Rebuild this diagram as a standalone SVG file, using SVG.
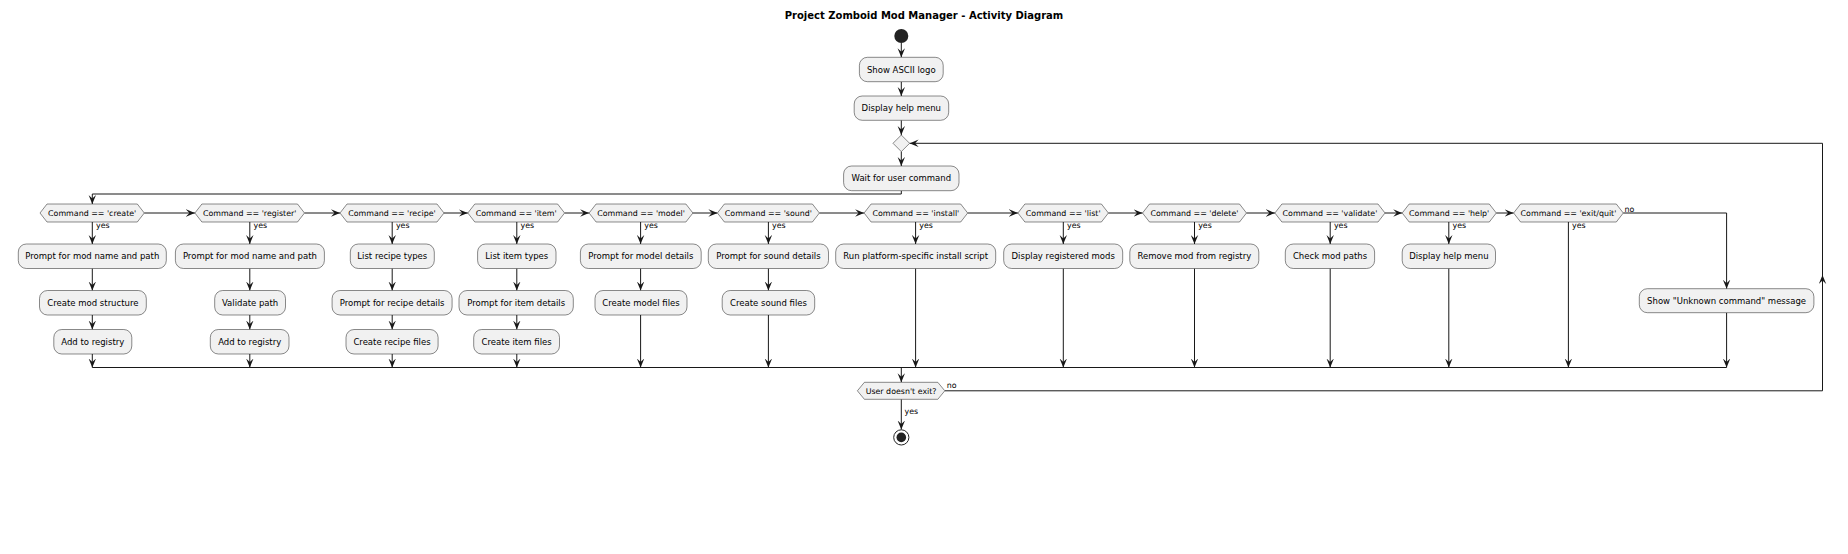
<svg xmlns="http://www.w3.org/2000/svg" width="1848" height="554" viewBox="0 0 1848 554">
<defs>
<marker id="ah" viewBox="0 0 9 8" refX="9" refY="4" markerWidth="9" markerHeight="8" orient="auto" markerUnits="userSpaceOnUse">
<path d="M0,0.3 L9,4 L0,7.7 L3.5,4 Z" fill="#181818"/>
</marker>
<style>
.box{fill:#F1F1F1;stroke:#181818;stroke-width:0.5}
.hex{fill:#F1F1F1;stroke:#181818;stroke-width:0.5}
.t{font-family:"DejaVu Sans",sans-serif;font-size:8.5px;fill:#000;text-anchor:middle}
.ht{font-family:"DejaVu Sans",sans-serif;font-size:7.9px;fill:#000;text-anchor:middle}
.lb{font-family:"DejaVu Sans",sans-serif;font-size:7.9px;fill:#000}
.title{font-family:"DejaVu Sans",sans-serif;font-size:10px;font-weight:bold;fill:#000;text-anchor:middle}
.c{fill:none;stroke:#181818;stroke-width:1}
.a{fill:none;stroke:#181818;stroke-width:1;marker-end:url(#ah)}
</style>
</defs>
<rect width="1848" height="554" fill="#FFFFFF"/>
<text class="title" x="924" y="18.5">Project Zomboid Mod Manager - Activity Diagram</text>

<g id="connectors">
<path class="a" d="M901.3,43 V57.3"/>
<path class="a" d="M901.3,81.7 V96"/>
<path class="a" d="M901.3,120.3 V135"/>
<path class="a" d="M901.3,151.6 V166"/>
<path class="a" d="M901.3,190.7 V194 H92.3 V204"/>
<path class="a" d="M144.3,213 H194.9"/>
<path class="a" d="M304.5,213 H340"/>
<path class="a" d="M444,213 H467.8"/>
<path class="a" d="M564.6,213 H589.1"/>
<path class="a" d="M692.9,213 H717.4"/>
<path class="a" d="M819.4,213 H864.1"/>
<path class="a" d="M967.7,213 H1017.9"/>
<path class="a" d="M1108.4,213 H1142.5"/>
<path class="a" d="M1246.5,213 H1274.9"/>
<path class="a" d="M1385,213 H1402.2"/>
<path class="a" d="M1496.3,213 H1513.6"/>
<path class="a" d="M1623.3,213 H1726.6 V288.7"/>
<!-- create -->
<path class="a" d="M92.3,222 V244"/>
<path class="a" d="M92.3,268.5 V290.5"/>
<path class="a" d="M92.3,315 V329.5"/>
<path class="a" d="M92.3,354 V367.5"/>
<!-- register -->
<path class="a" d="M249.8,222 V244"/>
<path class="a" d="M249.8,268.5 V290.5"/>
<path class="a" d="M249.8,315 V329.5"/>
<path class="a" d="M249.8,354 V367.5"/>
<!-- recipe -->
<path class="a" d="M392.2,222 V244"/>
<path class="a" d="M392.2,268.5 V290.5"/>
<path class="a" d="M392.2,315 V329.5"/>
<path class="a" d="M392.2,354 V367.5"/>
<!-- item -->
<path class="a" d="M516.8,222 V244"/>
<path class="a" d="M516.8,268.5 V290.5"/>
<path class="a" d="M516.8,315 V329.5"/>
<path class="a" d="M516.8,354 V367.5"/>
<!-- model -->
<path class="a" d="M640.6,222 V244"/>
<path class="a" d="M640.6,268.5 V290.5"/>
<path class="a" d="M640.6,315 V367.5"/>
<!-- sound -->
<path class="a" d="M768.4,222 V244"/>
<path class="a" d="M768.4,268.5 V290.5"/>
<path class="a" d="M768.4,315 V367.5"/>
<!-- single -->
<path class="a" d="M915.6,222 V244"/>
<path class="a" d="M915.6,268.5 V367.5"/>
<path class="a" d="M1063.3,222 V244"/>
<path class="a" d="M1063.3,268.5 V367.5"/>
<path class="a" d="M1194.5,222 V244"/>
<path class="a" d="M1194.5,268.5 V367.5"/>
<path class="a" d="M1330.2,222 V244"/>
<path class="a" d="M1330.2,268.5 V367.5"/>
<path class="a" d="M1448.8,222 V244"/>
<path class="a" d="M1448.8,268.5 V367.5"/>
<path class="a" d="M1568.4,222 V367.5"/>
<path class="a" d="M1726.6,312.7 V367.5"/>
<!-- merge -->
<path class="c" d="M92.3,367.5 H1726.6"/>
<path class="a" d="M901.3,367.5 V382.3"/>
<!-- loop -->
<path class="a" d="M944.8,390.8 H1822.5 V275"/>
<path class="a" d="M1822.5,276 V143.3 H909.6"/>
<path class="a" d="M901.3,399.3 V429.5"/>
<!-- labels -->
<text class="lb" x="96" y="227.5">yes</text>
<text class="lb" x="253.5" y="227.5">yes</text>
<text class="lb" x="395.9" y="227.5">yes</text>
<text class="lb" x="520.5" y="227.5">yes</text>
<text class="lb" x="644.3" y="227.5">yes</text>
<text class="lb" x="772.1" y="227.5">yes</text>
<text class="lb" x="919.3" y="227.5">yes</text>
<text class="lb" x="1067" y="227.5">yes</text>
<text class="lb" x="1198.2" y="227.5">yes</text>
<text class="lb" x="1333.9" y="227.5">yes</text>
<text class="lb" x="1452.5" y="227.5">yes</text>
<text class="lb" x="1572.1" y="227.5">yes</text>
<text class="lb" x="1624.5" y="211.5">no</text>
<text class="lb" x="946.7" y="388.3">no</text>
<text class="lb" x="904.5" y="414">yes</text>
</g>

<g id="start"><circle cx="901.3" cy="36" r="7" fill="#222222"/></g>
<g id="showLogo"><rect class="box" x="859.4" y="57.3" width="83.8" height="24.4" rx="8"/><text class="t" x="901.3" y="72.5">Show ASCII logo</text></g>
<g id="displayHelp"><rect class="box" x="854.2" y="96" width="94.5" height="24.3" rx="8"/><text class="t" x="901.3" y="111.2">Display help menu</text></g>
<g id="loopMerge"><polygon class="hex" points="901.3,135 909.6,143.3 901.3,151.6 893,143.3"/></g>
<g id="waitCmd"><rect class="box" x="843.6" y="166" width="115.4" height="24.7" rx="8"/><text class="t" x="901.3" y="181.4">Wait for user command</text></g>

<g id="d_create"><polygon class="hex" points="40,213 47,204 137.3,204 144.3,213 137.3,222 47,222"/><text class="ht" x="92.2" y="215.8">Command == 'create'</text></g>
<g id="d_register"><polygon class="hex" points="194.9,213 201.9,204 297.5,204 304.5,213 297.5,222 201.9,222"/><text class="ht" x="249.7" y="215.8">Command == 'register'</text></g>
<g id="d_recipe"><polygon class="hex" points="340,213 347,204 437,204 444,213 437,222 347,222"/><text class="ht" x="392" y="215.8">Command == 'recipe'</text></g>
<g id="d_item"><polygon class="hex" points="467.8,213 474.8,204 557.6,204 564.6,213 557.6,222 474.8,222"/><text class="ht" x="516.2" y="215.8">Command == 'item'</text></g>
<g id="d_model"><polygon class="hex" points="589.1,213 596.1,204 685.9,204 692.9,213 685.9,222 596.1,222"/><text class="ht" x="641" y="215.8">Command == 'model'</text></g>
<g id="d_sound"><polygon class="hex" points="717.4,213 724.4,204 812.4,204 819.4,213 812.4,222 724.4,222"/><text class="ht" x="768.4" y="215.8">Command == 'sound'</text></g>
<g id="d_install"><polygon class="hex" points="864.1,213 871.1,204 960.7,204 967.7,213 960.7,222 871.1,222"/><text class="ht" x="915.9" y="215.8">Command == 'install'</text></g>
<g id="d_list"><polygon class="hex" points="1017.9,213 1024.9,204 1101.4,204 1108.4,213 1101.4,222 1024.9,222"/><text class="ht" x="1063.2" y="215.8">Command == 'list'</text></g>
<g id="d_delete"><polygon class="hex" points="1142.5,213 1149.5,204 1239.5,204 1246.5,213 1239.5,222 1149.5,222"/><text class="ht" x="1194.5" y="215.8">Command == 'delete'</text></g>
<g id="d_validate"><polygon class="hex" points="1274.9,213 1281.9,204 1378,204 1385,213 1378,222 1281.9,222"/><text class="ht" x="1330" y="215.8">Command == 'validate'</text></g>
<g id="d_help"><polygon class="hex" points="1402.2,213 1409.2,204 1489.3,204 1496.3,213 1489.3,222 1409.2,222"/><text class="ht" x="1449.2" y="215.8">Command == 'help'</text></g>
<g id="d_exit"><polygon class="hex" points="1513.6,213 1520.6,204 1616.3,204 1623.3,213 1616.3,222 1520.6,222"/><text class="ht" x="1568.5" y="215.8">Command == 'exit/quit'</text></g>

<g id="create1"><rect class="box" x="18.3" y="244" width="148" height="24.5" rx="8"/><text class="t" x="92.3" y="259.3">Prompt for mod name and path</text></g>
<g id="create2"><rect class="box" x="39.5" y="290.5" width="106.8" height="24.5" rx="8"/><text class="t" x="92.9" y="305.8">Create mod structure</text></g>
<g id="create3"><rect class="box" x="53.8" y="329.5" width="78" height="24.5" rx="8"/><text class="t" x="92.8" y="344.8">Add to registry</text></g>

<g id="register1"><rect class="box" x="175.4" y="244" width="149" height="24.5" rx="8"/><text class="t" x="249.9" y="259.3">Prompt for mod name and path</text></g>
<g id="register2"><rect class="box" x="214.7" y="290.5" width="70.8" height="24.5" rx="8"/><text class="t" x="250.1" y="305.8">Validate path</text></g>
<g id="register3"><rect class="box" x="210.3" y="329.5" width="78.7" height="24.5" rx="8"/><text class="t" x="249.7" y="344.8">Add to registry</text></g>

<g id="recipe1"><rect class="box" x="350.3" y="244" width="84" height="24.5" rx="8"/><text class="t" x="392.3" y="259.3">List recipe types</text></g>
<g id="recipe2"><rect class="box" x="332.1" y="290.5" width="120" height="24.5" rx="8"/><text class="t" x="392.1" y="305.8">Prompt for recipe details</text></g>
<g id="recipe3"><rect class="box" x="346" y="329.5" width="92.1" height="24.5" rx="8"/><text class="t" x="392" y="344.8">Create recipe files</text></g>

<g id="item1"><rect class="box" x="477.6" y="244" width="78.4" height="24.5" rx="8"/><text class="t" x="516.8" y="259.3">List item types</text></g>
<g id="item2"><rect class="box" x="459" y="290.5" width="114.3" height="24.5" rx="8"/><text class="t" x="516.2" y="305.8">Prompt for item details</text></g>
<g id="item3"><rect class="box" x="473.7" y="329.5" width="85.8" height="24.5" rx="8"/><text class="t" x="516.6" y="344.8">Create item files</text></g>

<g id="model1"><rect class="box" x="580.4" y="244" width="120.8" height="24.5" rx="8"/><text class="t" x="640.8" y="259.3">Prompt for model details</text></g>
<g id="model2"><rect class="box" x="595" y="290.5" width="92" height="24.5" rx="8"/><text class="t" x="641" y="305.8">Create model files</text></g>

<g id="sound1"><rect class="box" x="708.3" y="244" width="120.2" height="24.5" rx="8"/><text class="t" x="768.4" y="259.3">Prompt for sound details</text></g>
<g id="sound2"><rect class="box" x="722.2" y="290.5" width="92.5" height="24.5" rx="8"/><text class="t" x="768.5" y="305.8">Create sound files</text></g>

<g id="install1"><rect class="box" x="835.7" y="244" width="160" height="24.5" rx="8"/><text class="t" x="915.7" y="259.3">Run platform-specific install script</text></g>
<g id="list1"><rect class="box" x="1003.7" y="244" width="119" height="24.5" rx="8"/><text class="t" x="1063.2" y="259.3">Display registered mods</text></g>
<g id="delete1"><rect class="box" x="1129.8" y="244" width="129" height="24.5" rx="8"/><text class="t" x="1194.3" y="259.3">Remove mod from registry</text></g>
<g id="validate1"><rect class="box" x="1285.3" y="244" width="89.3" height="24.5" rx="8"/><text class="t" x="1330" y="259.3">Check mod paths</text></g>
<g id="help1"><rect class="box" x="1402.2" y="244" width="93.3" height="24.5" rx="8"/><text class="t" x="1448.9" y="259.3">Display help menu</text></g>
<g id="unknown"><rect class="box" x="1639.3" y="288.7" width="174.6" height="24" rx="8"/><text class="t" x="1726.6" y="303.7">Show "Unknown command" message</text></g>

<g id="d_continue"><polygon class="hex" points="857.4,390.8 864.4,382.3 937.8,382.3 944.8,390.8 937.8,399.3 864.4,399.3"/><text class="ht" x="901.1" y="393.6">User doesn't exit?</text></g>
<g id="stop"><circle cx="901.3" cy="437.4" r="7.6" fill="none" stroke="#222222" stroke-width="1"/><circle cx="901.3" cy="437.4" r="4.8" fill="#222222"/></g>
</svg>
